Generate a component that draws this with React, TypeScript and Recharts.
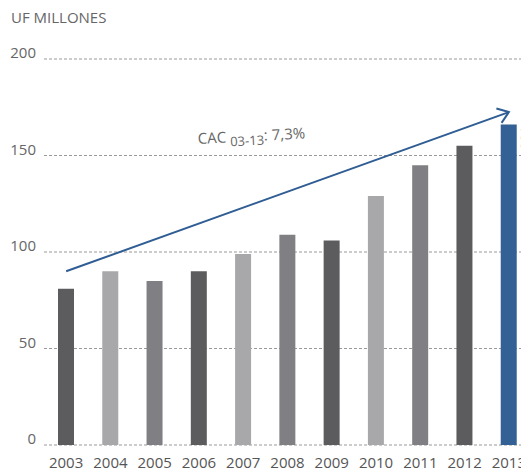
import React from 'react';
import { BarChart, Bar, XAxis, YAxis, CartesianGrid, Cell, ReferenceLine, LabelList } from 'recharts';

// UF millions per year
const years = ['2003', '2004', '2005', '2006', '2007', '2008', '2009', '2010', '2011', '2012', '2013'];
const values = [81, 90, 85, 90, 99, 109, 106, 129, 145, 155, 166];
const yTicks = [0, 50, 100, 150, 200];

// Trend arrow endpoints (value scale)
const trendFrom = { year: '2003', value: 90 };
const trendTo = { year: '2013', value: 172.5 };

const unitTitle = 'UF MILLONES';
const cagrPrefix = 'CAC';
const cagrPeriod = '03-13';
const cagrValue = ': 7,3%';

const DARK = '#5c5c5e';
const LIGHT = '#a8a8ab';
const MID = '#808084';
const BLUE = '#336196';
const barColors = [DARK, LIGHT, MID, DARK, LIGHT, MID, DARK, LIGHT, MID, DARK, BLUE];

const FONT = '"Open Sans", sans-serif';

const data = years.map((year, i) => ({ year, value: values[i] }));

const YTick = (props: any) => {
  const { x, y, payload } = props;
  return (
    <text x={x} y={y} dy={-1} textAnchor="end" fontSize={15} fill="#666" fontFamily={FONT}>
      {payload.value}
    </text>
  );
};

const XTick = (props: any) => {
  const { x, y, payload } = props;
  return (
    <text x={x} y={y} dy={23} textAnchor="middle" fontSize={15} fill="#555" fontFamily={FONT}>
      {payload.value}
    </text>
  );
};

const Arrow = (props: any) => {
  const { x1, y1, x2, y2 } = props;
  const dx = x2 - x1;
  const dy = y2 - y1;
  const len = Math.sqrt(dx * dx + dy * dy);
  const bx = -dx / len;
  const by = -dy / len;
  const head = 13;
  const ang = (36 * Math.PI) / 180;
  const rot = (a: number) => ({
    x: x2 + head * (bx * Math.cos(a) - by * Math.sin(a)),
    y: y2 + head * (bx * Math.sin(a) + by * Math.cos(a)),
  });
  const p1 = rot(ang);
  const p2 = rot(-ang);
  return (
    <g>
      <line x1={x1} y1={y1} x2={x2} y2={y2} stroke="#2f5d94" strokeWidth={2} />
      <polyline
        points={`${p1.x},${p1.y} ${x2},${y2} ${p2.x},${p2.y}`}
        fill="none"
        stroke="#2f5d94"
        strokeWidth={2}
        strokeLinejoin="miter"
      />
    </g>
  );
};

const LastValueLabel = (props: any) => {
  const { x, y, width, value, index } = props;
  if (index !== values.length - 1) return null;
  const tx = x + width + 4;
  const ty = y + 1;
  return (
    <text
      transform={`translate(${tx},${ty}) rotate(90)`}
      x={0}
      y={0}
      textAnchor="start"
      fontSize={14}
      fill="#666"
      fontFamily={FONT}
    >
      {value}
    </text>
  );
};

export default function App() {
  return (
    <div style={{ position: 'relative', width: 530, height: 463 }}>
      <BarChart
        width={530}
        height={463}
        data={data}
        margin={{ top: 51, right: 7, bottom: 0, left: 0 }}
        style={{ overflow: 'visible' }}
      >
        <CartesianGrid horizontal vertical={false} stroke="#999" strokeDasharray="3 2" />
        <YAxis
          width={36}
          domain={[0, 200]}
          ticks={yTicks}
          axisLine={false}
          tickLine={false}
          tickSize={0}
          tickMargin={8}
          tick={<YTick />}
        />
        <XAxis
          dataKey="year"
          height={26}
          interval={0}
          axisLine={false}
          tickLine={false}
          tickSize={0}
          tickMargin={0}
          tick={<XTick />}
        />
        <Bar dataKey="value" barSize={16} isAnimationActive={false}>
          {data.map((d, i) => (
            <Cell key={d.year} fill={barColors[i]} />
          ))}
          <LabelList dataKey="value" content={<LastValueLabel />} />
        </Bar>
        <ReferenceLine
          segment={[
            { x: trendFrom.year, y: trendFrom.value },
            { x: trendTo.year, y: trendTo.value },
          ]}
          shape={(p: any) => <Arrow {...p} />}
        />
      </BarChart>
      <svg
        width={530}
        height={463}
        style={{ position: 'absolute', left: 0, top: 0, pointerEvents: 'none', overflow: 'visible' }}
      >
        <text x={3} y={15} fontSize={15} fill="#666" fontFamily={FONT}>
          {unitTitle}
        </text>
        <text
          x={190}
          y={136}
          transform="rotate(-3 190 136)"
          fontSize={15}
          fill="#666"
          fontFamily={FONT}
        >
          {cagrPrefix + ' '}
          <tspan dy={4} fontSize={13}>
            {cagrPeriod}
          </tspan>
          <tspan dy={-4}>{cagrValue}</tspan>
        </text>
      </svg>
    </div>
  );
}
